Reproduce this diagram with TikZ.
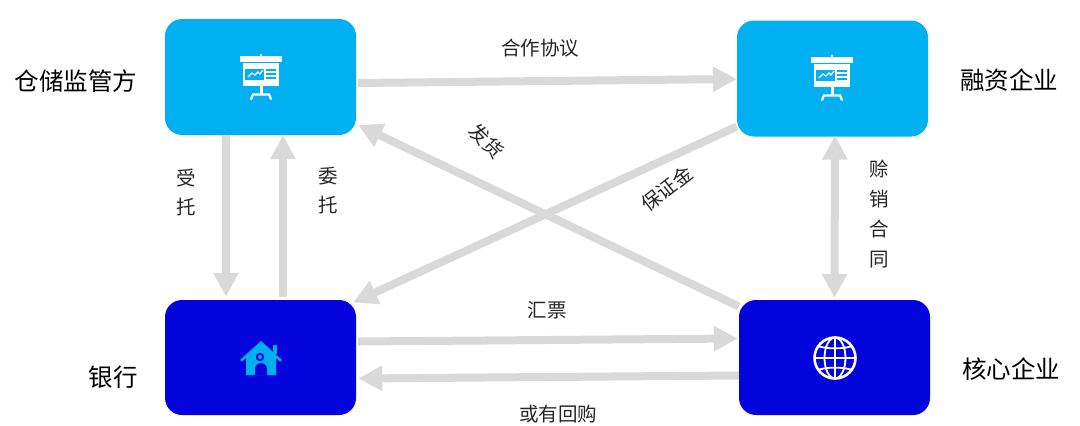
\documentclass[tikz,border=0pt]{standalone}
\usepackage{fontspec}
\setmainfont{Noto Sans CJK SC}
\usetikzlibrary{arrows.meta,calc}
\definecolor{lightb}{HTML}{00B0F0}
\definecolor{darkb}{HTML}{0404DC}
\definecolor{arr}{HTML}{D9D9D9}
\tikzset{
  x=1pt,y=-1pt,
  lightbox/.style={fill=lightb,draw=none,rounded corners=17pt,minimum width=191pt,minimum height=116pt,inner sep=0pt},
  darkbox/.style={fill=darkb,draw=none,rounded corners=17pt,minimum width=191pt,minimum height=115pt,inner sep=0pt},
  big/.style={font=\fontsize{24.5}{24.5}\selectfont,text=black,inner sep=0pt},
  small/.style={font=\fontsize{19.5}{19.5}\selectfont,text=black!85,inner sep=0pt},
  flow/.style={draw=arr,line width=8pt,-{Triangle[length=24pt,width=24pt]}},
  flowboth/.style={draw=arr,line width=8pt,{Triangle[length=24pt,width=24pt]}-{Triangle[length=24pt,width=24pt]}},
}
\newcommand{\boardicon}[2]{%
  \begin{scope}[shift={(#1,#2)}]
    \fill[white] (-21,-24) rectangle (21,-18);
    \fill[white] (-1,-26) rectangle (1,-24);
    \fill[white] (-18,-17) rectangle (17.5,5.5);
    \fill[lightb] (-16,-11) rectangle (3,0);
    \draw[white,line width=1.1pt] (-13,-3) -- (-9,-7) -- (-6,-5) -- (-3,-8) -- (-1,-6) -- (2,-10);
    \fill[lightb] (5,-11) rectangle (15,-9);
    \fill[lightb] (5,-7) rectangle (15,-5);
    \fill[lightb] (5,-3) rectangle (15,-1);
    \fill[white] (-1.5,5) rectangle (1.5,15);
    \draw[white,line width=2.2pt,line cap=round] (-10,19) -- (-8,14.5) -- (8,14.5) -- (10,19);
  \end{scope}}
\begin{document}
\begin{tikzpicture}
\useasboundingbox (0,0) rectangle (1080,426);
\fill[white] (0,0) rectangle (1080,426);
% connectors
\node[lightbox] (wh) at (260.5,77) {};
\node[lightbox] (fin) at (832.5,78.5) {};
\node[darkbox] (bank) at (260.5,357.5) {};
\node[darkbox] (core) at (834.5,357.5) {};
\draw[flow] ($(wh.east)+(2,6)$) -- ($(fin.west)+(0,0.5)$);
\draw[flow] ($(wh.south)+(-34.5,0)$) -- ($(bank.north)+(-34.5,-3)$);
\draw[flow] ($(bank.north)+(22.5,-3)$) -- ($(wh.south)+(22.5,0)$);
\draw[flow] ($(fin.west)+(0,48)$) -- ($(bank.east)+(-3,-55)$);
\draw[flow] ($(core.west)+(0,-51)$) -- ($(wh.east)+(2,48)$);
\draw[flowboth] ($(fin.south)+(2.5,-1)$) -- ($(core.north)+(0,-2)$);
\draw[flow] ($(bank.east)+(2,-16)$) -- ($(core.west)+(-1,-19)$);
\draw[flow] ($(core.west)+(0,18)$) -- ($(bank.east)+(2,21)$);
% icons
\boardicon{261}{80}
\boardicon{832}{81}
\begin{scope}[shift={(261,358)}]
  \fill[lightb] (-21,2) -- (0,-17) -- (21,2) -- (19,3.5) -- (15,0) -- (15,17) -- (-15,17) -- (-15,0) -- (-19,3.5) -- cycle;
  \fill[lightb] (12,-13) rectangle (16,-4);
  \fill[darkb] (-6,17) -- (-6,11) arc[start angle=180,end angle=360,radius=6] -- (6,17) -- cycle;
  \fill[darkb] (-1,-1) circle[radius=4.2];
  \fill[lightb] (-1,-1) circle[radius=2];
\end{scope}
\begin{scope}[shift={(835,358)}]
  \draw[white,line width=2.6pt] (0,0) circle[radius=20.5];
  \draw[white,line width=1.8pt] (0,-20) -- (0,20);
  \draw[white,line width=1.8pt] (-20.5,0) -- (20.5,0);
  \draw[white,line width=1.8pt] (0,0) ellipse[x radius=10.5,y radius=20.5];
  \draw[white,line width=1.8pt] (-16,-11.5) .. controls (-6,-9) and (6,-9) .. (16,-11.5);
  \draw[white,line width=1.8pt] (-16,11.5) .. controls (-6,9) and (6,9) .. (16,11.5);
\end{scope}
% labels
\node[big] (t1) at (76,81) {仓储监管方};
\node[big] (t2) at (1009,80) {融资企业};
\node[big] (t3) at (113,377) {银行};
\node[big] (t4) at (1011,369) {核心企业};
\node[small] (l1) at (540,48) {合作协议};
\node[small] (l2) at (186,178) {受};
\node[small] (l3) at (186,207) {托};
\node[small] (l4) at (328,176) {委};
\node[small] (l5) at (328,205) {托};
\node[small,rotate=-45] (l6) at (487,141) {发货};
\node[small,rotate=38] (l7) at (667,189) {保证金};
\node[small] (l8) at (879,169) {赊};
\node[small] (l9) at (879,199) {销};
\node[small] (l10) at (879,229) {合};
\node[small] (l11) at (879,260) {同};
\node[small] (l12) at (547,310) {汇票};
\node[small] (l13) at (558,414) {或有回购};
\end{tikzpicture}
\end{document}
